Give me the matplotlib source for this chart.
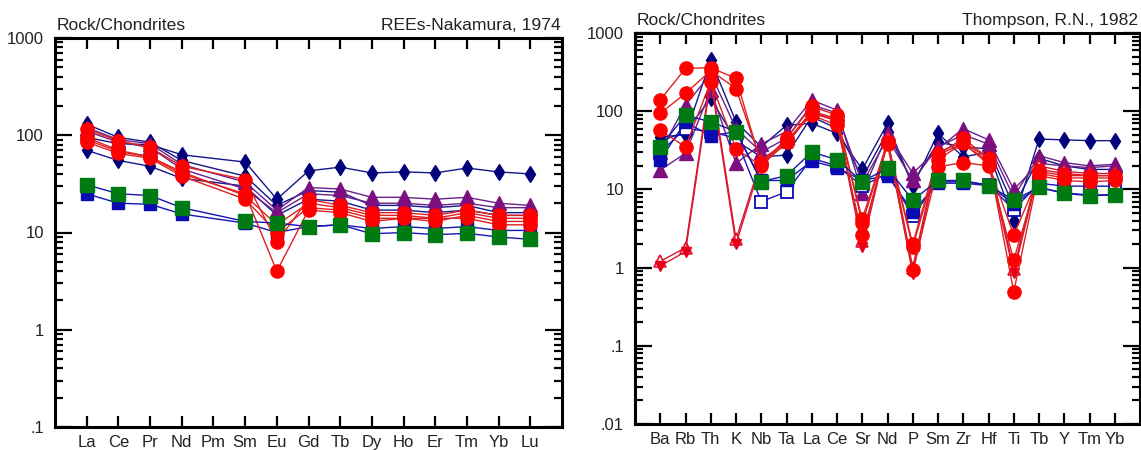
"""
Chondrite-normalised spider plots: REE (Nakamura 1974) and
multi-element (Thompson 1982), side by side.
"""

import numpy as np
import matplotlib.pyplot as plt
from matplotlib.ticker import FixedLocator, FixedFormatter, LogLocator, NullFormatter

plt.rcParams['font.family'] = ['Liberation Sans', 'DejaVu Sans']

# ---------------------------------------------------------------- data
REE = ['La', 'Ce', 'Pr', 'Nd', 'Pm', 'Sm', 'Eu', 'Gd', 'Tb', 'Dy', 'Ho', 'Er', 'Tm', 'Yb', 'Lu']
nan = np.nan

ree_diamond_1 = [95, 82, 80, 63, nan, 53, 22, 43, 47, 41, 42, 41, 46, 42, 40]
ree_diamond_2 = [70, 55, 48, 36, nan, 30, 15, 22, 21, 17, 17, 16, 17, 15, 15]
ree_diamond_3 = [130, 95, 85, 55, nan, 38, 19, 27, 26, 19, 19, 18, 19, 16, 16]
ree_triangle_1 = [120, 90, 82, 50, nan, 33, 17, 29, 28, 23, 23, 22, 23, 20, 19]
ree_triangle_2 = [110, 85, 75, 45, nan, 28, 16, 25, 24, 20, 20, 19, 20, 18, 18]
ree_square_blue = [25, 20, 19.5, 15.5, nan, 12.5, 10, 11.5, 12, 11, 11.5, 11, 11.5, 10.5, 10.5]
ree_circle_1 = [115, 88, 75, 48, nan, 35, 8, 22, 19, 16, 16, 15, 17, 15, 15]
ree_circle_2 = [95, 70, 60, 40, nan, 25, 4, 17, 16, 13, 14, 13, 15, 13, 13]
ree_circle_3 = [85, 65, 58, 38, nan, 22, 10, 18, 17, 14, 14, 14, 14, 12, 12]
ree_circle_4 = [90, 68, 60, 42, nan, 24, 12, 20, 18, 15, 15, 14, 16, 14, 14]
ree_square_green = [31, 25, 24, 18, nan, 13, 12.5, 11.5, 12, 9.7, 10, 9.5, 9.8, 9, 8.5]

SPIDER = ['Ba', 'Rb', 'Th', 'K', 'Nb', 'Ta', 'La', 'Ce', 'Sr', 'Nd', 'P', 'Sm', 'Zr', 'Hf',
          'Ti', 'Tb', 'Y', 'Tm', 'Yb']

sp_diamond_1 = [47, 50, 450, 73, 35, 66, 70, 52, 18, 70, 11, 52, 26, 30, 4, 44, 43, 42, 42]
sp_diamond_2 = [41, 55, 146, 42, 26, 27.5, 85, 60, 14, 55, 12, 40, 35, 33, 6, 25, 20, 18, 18]
sp_triangle_1 = [17.7, 29, 186, 21.5, 38, 55, 139, 103, 8.9, 52, 16, 33, 60, 43, 10, 21.5, 20, 19, 20]
sp_triangle_2 = [30, 120, 300, 60, 30, 45, 120, 95, 12, 45, 13, 35, 50, 38, 8, 27, 22, 20, 21]
sp_square_blue = [24, 73, 48, 55, 13, 13, 23, 19, 13, 15, 5.2, 12, 12, 11.2, 6.6, 10.6, 9, 8.5, 8.5]
sp_square_open = [30, 60, 55, 45, 7, 9.3, 25, 20, 11, 16, 4.6, 12.5, 12.5, 11.5, 5.5, 12, 11, 11, 11]
sp_tri_open = [1.2, 1.8, 280, 2.3, 24, 40, 100, 80, 2.2, 45, 1.0, 30, 40, 25, 0.95, 20, 17, 16, 16]
sp_tri_down = [1.05, 1.6, 250, 2.0, 22, 38, 95, 75, 1.85, 42, 0.82, 28, 38, 23, 0.85, 18, 16, 15, 15]
sp_circle_1 = [139, 353, 360, 263, 21, 45, 115, 89, 3.7, 39, 1.85, 24, 39, 21, 2.6, 15, 13, 12.5, 13]
sp_circle_2 = [94, 169, 330, 195, 22, 42, 89, 66, 2.6, 38, 0.93, 19.5, 22, 20, 1.25, 16, 14, 14, 14]
sp_circle_3 = [57, 35, 239, 33, 20, 40, 100, 75, 4.2, 40, 2.0, 28, 45, 25, 0.49, 17, 15, 15, 15]
sp_square_green = [35, 89, 73, 55, 12.6, 15, 30, 24, 12.6, 18.6, 7.3, 13, 13, 11.2, 7.3, 10.6, 8.9, 8.3, 8.5]

# ---------------------------------------------------------------- styles
NAVY, PURPLE, RED, BLUE, GREEN = '#00007a', '#7d0f80', '#ff0000', '#0a0ab4', '#007a12'
DIAMOND = dict(marker='d', ms=8, mfc=NAVY, mec=NAVY, color='#16168a')
TRIANGLE = dict(marker='^', ms=9.5, mfc=PURPLE, mec=PURPLE, color='#6a1f8a')
CIRCLE = dict(marker='o', ms=9.5, mfc=RED, mec=RED, color='#e02020')
SQ_BLUE = dict(marker='s', ms=8.5, mfc=BLUE, mec=BLUE, color='#1414b4')
SQ_OPEN = dict(marker='s', ms=8, mfc='white', mec=BLUE, mew=1.3, color='#1414b4')
SQ_GREEN = dict(marker='s', ms=10, mfc=GREEN, mec=GREEN, color='#1414b4')
TRI_OPEN = dict(marker='^', ms=8, mfc='white', mec='#e01030', mew=1.2, color='#d81830')
TRI_DOWN = dict(marker='v', ms=7.5, mfc='#e8001a', mec='#e8001a', color='#d81830')

TXT = '#222222'


def _series(ax, vals, style):
    v = np.asarray(vals, dtype=float)
    x = np.arange(1, len(v) + 1)
    ok = ~np.isnan(v)
    ax.plot(x[ok], v[ok], lw=1.0, **style)


def _frame(ax, labels, ymin, left_title, right_title):
    n = len(labels)
    ax.set_yscale('log')
    ax.set_ylim(ymin, 1000)
    ax.set_xlim(0, n + 1)
    for s in ax.spines.values():
        s.set_linewidth(2.2)
        s.set_color('black')

    ax.set_xticks(np.arange(1, n + 1))
    ax.set_xticklabels(labels)
    ax.tick_params(axis='x', which='major', direction='in', top=True, bottom=True,
                   length=8, width=1.6, pad=6, labelsize=12, labelcolor=TXT)

    decades = [10.0 ** k for k in range(int(round(np.log10(ymin))), 4)]
    lab = {1000: '1000', 100: '100', 10: '10', 1: '1', 0.1: '.1', 0.01: '.01'}
    ax.yaxis.set_major_locator(FixedLocator(decades))
    ax.yaxis.set_major_formatter(FixedFormatter([lab[round(d, 2) if d < 1 else int(d)] for d in decades]))
    ax.yaxis.set_minor_locator(LogLocator(base=10, subs=np.arange(2, 10)))
    ax.yaxis.set_minor_formatter(NullFormatter())
    ax.tick_params(axis='y', which='major', direction='in', left=True, right=True,
                   length=12, width=1.6, pad=8, labelsize=12, labelcolor=TXT)
    ax.tick_params(axis='y', which='minor', direction='in', left=True, right=True,
                   length=5.5, width=1.6)

    ax.annotate(left_title, (0, 1), xycoords='axes fraction', xytext=(1, 5.5),
                textcoords='offset points', ha='left', va='baseline', fontsize=12.6, color=TXT)
    ax.annotate(right_title, (1, 1), xycoords='axes fraction', xytext=(-1, 5.5),
                textcoords='offset points', ha='right', va='baseline', fontsize=12.6, color=TXT)


def plot_spiders(savepath='out.png'):
    fig = plt.figure(figsize=(11.41, 4.5), dpi=100)
    ax1 = fig.add_axes([55 / 1141, 23 / 450, 507 / 1141, 389 / 450])
    ax2 = fig.add_axes([635 / 1141, 26 / 450, 505 / 1141, 391 / 450])

    # REE plot
    for vals, st in [(ree_diamond_1, DIAMOND), (ree_diamond_2, DIAMOND), (ree_diamond_3, DIAMOND),
                     (ree_triangle_1, TRIANGLE), (ree_triangle_2, TRIANGLE),
                     (ree_square_blue, SQ_BLUE),
                     (ree_circle_1, CIRCLE), (ree_circle_2, CIRCLE),
                     (ree_circle_3, CIRCLE), (ree_circle_4, CIRCLE),
                     (ree_square_green, SQ_GREEN)]:
        _series(ax1, vals, st)
    _frame(ax1, REE, 0.1, 'Rock/Chondrites', 'REEs-Nakamura, 1974')

    # multi-element plot
    for vals, st in [(sp_diamond_1, DIAMOND), (sp_diamond_2, DIAMOND),
                     (sp_triangle_1, TRIANGLE), (sp_triangle_2, TRIANGLE),
                     (sp_square_open, SQ_OPEN), (sp_square_blue, SQ_BLUE),
                     (sp_tri_open, TRI_OPEN), (sp_tri_down, TRI_DOWN),
                     (sp_circle_1, CIRCLE), (sp_circle_2, CIRCLE), (sp_circle_3, CIRCLE),
                     (sp_square_green, SQ_GREEN)]:
        _series(ax2, vals, st)
    _frame(ax2, SPIDER, 0.01, 'Rock/Chondrites', 'Thompson, R.N., 1982')

    fig.savefig(savepath, dpi=100, facecolor='white')
    print(f'Saved {savepath}')
    return fig


if __name__ == '__main__':
    plot_spiders()
